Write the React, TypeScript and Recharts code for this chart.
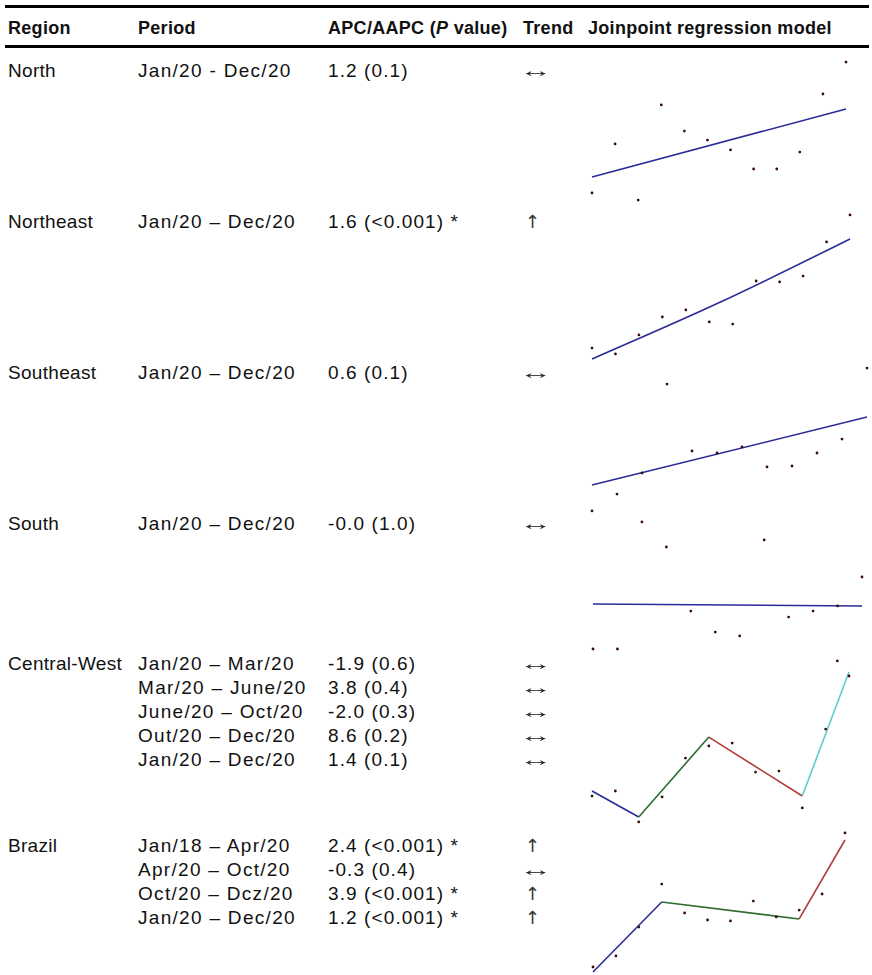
import React from "react";
import { ComposedChart, Line, Scatter, XAxis, YAxis } from "recharts";

// ---------- table text ----------
const headers = ["Region", "Period", "APC/AAPC (P value)", "Trend", "Joinpoint regression model"];
const regions = ["North", "Northeast", "Southeast", "South", "Central-West", "Brazil"];
const periods: string[][] = [
  ["Jan/20 - Dec/20"],
  ["Jan/20 – Dec/20"],
  ["Jan/20 – Dec/20"],
  ["Jan/20 – Dec/20"],
  ["Jan/20 – Mar/20", "Mar/20 – June/20", "June/20 – Oct/20", "Out/20 – Dec/20", "Jan/20 – Dec/20"],
  ["Jan/18 – Apr/20", "Apr/20 – Oct/20", "Oct/20 – Dcz/20", "Jan/20 – Dec/20"],
];
const apcValues: string[][] = [
  ["1.2 (0.1)"],
  ["1.6 (<0.001) *"],
  ["0.6 (0.1)"],
  ["-0.0 (1.0)"],
  ["-1.9 (0.6)", "3.8 (0.4)", "-2.0 (0.3)", "8.6 (0.2)", "1.4 (0.1)"],
  ["2.4 (<0.001) *", "-0.3 (0.4)", "3.9 (<0.001) *", "1.2 (<0.001) *"],
];
const trends: string[][] = [
  ["↔"],
  ["↑"],
  ["↔"],
  ["↔"],
  ["↔", "↔", "↔", "↔", "↔"],
  ["↑", "↔", "↑", "↑"],
];

// ---------- joinpoint data (months 1..12, relative rate) ----------
const months = [1, 2, 3, 4, 5, 6, 7, 8, 9, 10, 11, 12];
const northObs = [8.0, 40.7, 3.3, 66.7, 49.3, 43.3, 36.7, 24.0, 24.0, 35.3, 74.0, 95.3];
const northFit = [{ x: 1, y: 18.7 }, { x: 12, y: 64.0 }];
const northeastObs = [10.6, 6.9, 18.8, 30.0, 34.4, 26.9, 25.6, 52.5, 51.9, 55.6, 76.9, 93.8];
const northeastFit = [{ x: 1, y: 3.8 }, { x: 6.5, y: 39.5 }, { x: 12, y: 78.8 }];
const southeastObs = [2.6, 13.5, 27.1, 84.5, 41.3, 40.0, 43.9, 31.0, 31.6, 40.0, 49.0, 94.8];
const southeastFit = [{ x: 1, y: 19.4 }, { x: 12, y: 63.2 }];
const southObs = [4.0, 4.0, 88.7, 72.0, 29.3, 15.3, 12.7, 76.7, 25.3, 29.3, 32.7, 52.0];
const southFit = [{ x: 1, y: 34.0 }, { x: 12, y: 32.7 }];
const centralWestObs = [19.4, 22.3, 4.6, 18.9, 41.1, 48.0, 49.7, 33.1, 33.7, 12.6, 57.7, 88.0];
const centralWestExtra = [{ x: 11.5, y: 96.6 }];
const centralWestSeg1 = [{ x: 1, y: 22.3 }, { x: 3, y: 7.4 }];
const centralWestSeg2 = [{ x: 3, y: 7.4 }, { x: 6, y: 53.1 }];
const centralWestSeg3 = [{ x: 6, y: 53.1 }, { x: 10, y: 19.4 }];
const centralWestSeg4 = [{ x: 10, y: 19.4 }, { x: 12, y: 90.3 }];
const brazilObs = [7.2, 14.4, 33.3, 61.4, 42.5, 37.9, 37.3, 50.3, 39.9, 44.4, 54.9, 94.8];
const brazilSeg1 = [{ x: 1, y: 3.9 }, { x: 4, y: 49.7 }];
const brazilSeg2 = [{ x: 4, y: 49.7 }, { x: 10, y: 38.6 }];
const brazilSeg3 = [{ x: 10, y: 38.6 }, { x: 12, y: 90.2 }];

const toPts = (vals: number[]) => vals.map((y, i) => ({ x: months[i], y }));

const BLUE = "#2b2b98";
const GREEN = "#2e6a2e";
const RED = "#b23a3a";
const CYAN = "#5ecccc";
const DOT = "#3a0b0b";

type Seg = { data: { x: number; y: number }[]; color: string; curve?: boolean };
type Panel = {
  left: number; right: number; top: number; bottom: number;
  obs: { x: number; y: number }[];
  segs: Seg[];
};

const panels: Panel[] = [
  { left: 592, right: 846, top: 55, bottom: 205, obs: toPts(northObs), segs: [{ data: northFit, color: BLUE }] },
  { left: 592, right: 850, top: 205, bottom: 365, obs: toPts(northeastObs), segs: [{ data: northeastFit, color: BLUE, curve: true }] },
  { left: 592, right: 867, top: 360, bottom: 515, obs: toPts(southeastObs), segs: [{ data: southeastFit, color: BLUE }] },
  { left: 593, right: 862, top: 505, bottom: 655, obs: toPts(southObs), segs: [{ data: southFit, color: BLUE }] },
  {
    left: 592, right: 849, top: 655, bottom: 830,
    obs: [...toPts(centralWestObs), ...centralWestExtra],
    segs: [
      { data: centralWestSeg1, color: BLUE },
      { data: centralWestSeg2, color: GREEN },
      { data: centralWestSeg3, color: RED },
      { data: centralWestSeg4, color: CYAN },
    ],
  },
  {
    left: 593, right: 845, top: 825, bottom: 978,
    obs: toPts(brazilObs),
    segs: [
      { data: brazilSeg1, color: BLUE },
      { data: brazilSeg2, color: GREEN },
      { data: brazilSeg3, color: RED },
    ],
  },
];

const PAD = 6;

const DotShape = (props: any) => {
  const { cx, cy } = props;
  if (cx == null || cy == null) return null;
  return <circle cx={cx} cy={cy} r={1.4} fill={DOT} />;
};

function MiniChart({ p, idx }: { p: Panel; idx: number }) {
  const w = p.right - p.left + PAD * 2;
  const h = p.bottom - p.top + PAD * 2;
  return (
    <div style={{ position: "absolute", left: p.left - PAD, top: p.top - PAD, width: w, height: h }}>
      <ComposedChart width={w} height={h} margin={{ top: PAD, right: PAD, bottom: PAD, left: PAD }}>
        <XAxis type="number" dataKey="x" domain={[1, 12]} hide />
        <YAxis type="number" dataKey="y" domain={[0, 100]} hide />
        {p.segs.map((s, i) => (
          <Line
            key={`l${idx}-${i}`}
            data={s.data}
            dataKey="y"
            type={s.curve ? "monotone" : "linear"}
            stroke={s.color}
            strokeWidth={1.6}
            dot={false}
            activeDot={false}
            isAnimationActive={false}
          />
        ))}
        <Scatter data={p.obs} dataKey="y" shape={<DotShape />} isAnimationActive={false} />
      </ComposedChart>
    </div>
  );
}

const BODY_FONT = "'Liberation Sans', Arial, sans-serif";

function Txt({ x, base, children, bold, size, ls }: { x: number; base: number; children: React.ReactNode; bold?: boolean; size?: number; ls?: number }) {
  const fs = size ?? 19;
  const off = (fs - 1.117 * fs) / 2 + 0.905 * fs;
  return (
    <div
      style={{
        position: "absolute",
        left: x,
        top: base - off,
        fontSize: fs,
        lineHeight: `${fs}px`,
        fontWeight: bold ? 700 : 400,
        fontFamily: BODY_FONT,
        letterSpacing: ls ?? (bold ? 0.3 : 1),
        whiteSpace: "nowrap",
        color: "#111",
      }}
    >
      {children}
    </div>
  );
}

function Arrow({ x, base, ch }: { x: number; base: number; ch: string }) {
  const wide = ch === "↔";
  if (wide) {
    return (
      <div
        style={{
          position: "absolute",
          left: x,
          top: base - 16,
          fontSize: 19,
          lineHeight: "20px",
          fontFamily: BODY_FONT,
          color: "#222",
          transformOrigin: "0 60%",
          transform: "scale(1.75, 1)",
          whiteSpace: "nowrap",
        }}
      >
        {ch}
      </div>
    );
  }
  return (
    <div
      style={{
        position: "absolute",
        left: x + 6,
        top: base - 16,
        fontSize: 18,
        lineHeight: "20px",
        fontFamily: "'DejaVu Sans', sans-serif",
        color: "#333",
        whiteSpace: "nowrap",
      }}
    >
      {ch}
    </div>
  );
}

const colX = [8, 138, 328, 523, 588];
const trendX = 519;
const rowBase = [77, 228, 379, 530, 670, 852];
const lineStep = 24;

export default function App() {
  return (
    <div style={{ position: "absolute", left: 0, top: 0, width: 872, height: 975, background: "#fff", overflow: "hidden" }}>
      <div style={{ position: "absolute", left: 5, top: 5, width: 864, height: 3, background: "#000" }} />
      <div style={{ position: "absolute", left: 5, top: 45, width: 864, height: 3, background: "#000" }} />
      {headers.map((h, i) => (
        <Txt key={h} x={colX[i]} base={34} bold size={18}>
          {i === 2 ? (
            <>
              APC/AAPC (<i>P</i> value)
            </>
          ) : (
            h
          )}
        </Txt>
      ))}
      {regions.map((r, ri) => (
        <React.Fragment key={r}>
          <Txt x={colX[0]} base={rowBase[ri]} ls={0.3}>{r}</Txt>
          {periods[ri].map((p, k) => (
            <Txt key={`p${k}`} x={colX[1]} base={rowBase[ri] + k * lineStep} ls={1.3}>{p}</Txt>
          ))}
          {apcValues[ri].map((a, k) => (
            <Txt key={`a${k}`} x={colX[2]} base={rowBase[ri] + k * lineStep} ls={1.1}>{a}</Txt>
          ))}
          {trends[ri].map((t, k) => (
            <Arrow key={`t${k}`} x={trendX} base={rowBase[ri] + k * lineStep} ch={t} />
          ))}
        </React.Fragment>
      ))}
      {panels.map((p, i) => (
        <MiniChart key={i} p={p} idx={i} />
      ))}
    </div>
  );
}
